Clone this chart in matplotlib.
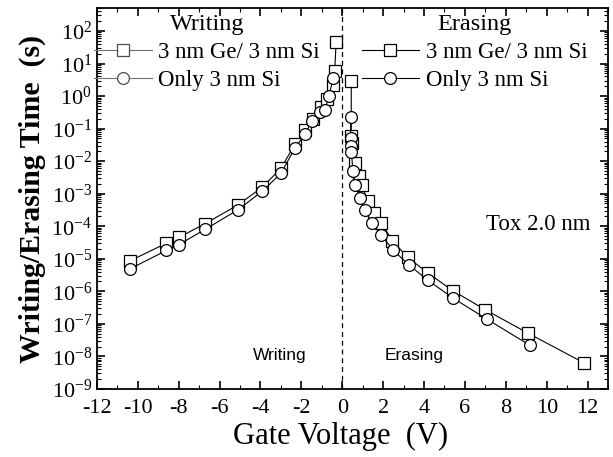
import matplotlib
matplotlib.use('Agg')
import matplotlib.pyplot as plt
from matplotlib.ticker import MultipleLocator, LogLocator, LogFormatterMathtext, NullFormatter

plt.rcParams['font.family'] = ['Liberation Serif', 'DejaVu Serif']
plt.rcParams['axes.unicode_minus'] = False
plt.rcParams['mathtext.fontset'] = 'custom'
plt.rcParams['mathtext.rm'] = 'Liberation Serif'

# Writing (negative gate voltage)
w_ge_v = [-10.4, -8.6, -8.0, -6.7, -5.1, -3.9, -3.0, -2.3, -1.8, -1.45, -1.05, -0.75, -0.45, -0.37, -0.3]
w_ge_t = [8.5e-6, 3.0e-5, 4.5e-5, 1.2e-4, 4.5e-4, 1.6e-3, 6.0e-3, 0.034, 0.09, 0.2, 0.45, 0.8, 2.2, 5.8, 45]
w_si_v = [-10.4, -8.6, -8.0, -6.7, -5.1, -3.9, -3.0, -2.3, -1.8, -1.5, -1.07, -0.85, -0.65, -0.45]
w_si_t = [4.8e-6, 1.8e-5, 2.7e-5, 8.0e-5, 3.2e-4, 1.2e-3, 4.2e-3, 0.026, 0.07, 0.17, 0.32, 0.38, 1.0, 3.5]

# Erasing (positive gate voltage)
e_ge_v = [0.44, 0.44, 0.47, 0.63, 0.8, 0.96, 1.25, 1.55, 1.9, 2.45, 3.2, 4.2, 5.4, 7.0, 9.1, 11.8]
e_ge_t = [2.8, 0.058, 0.035, 8.7e-3, 3.5e-3, 1.9e-3, 5.8e-4, 2.5e-4, 1.3e-4, 3.6e-5, 1.1e-5, 3.6e-6, 1.05e-6, 2.7e-7, 5.1e-8, 6.4e-9]
e_si_v = [0.41, 0.41, 0.44, 0.45, 0.52, 0.63, 0.88, 1.09, 1.45, 1.9, 2.47, 3.24, 4.18, 5.43, 7.07, 9.17]
e_si_t = [0.23, 0.05, 0.03, 0.019, 4.9e-3, 1.9e-3, 7.4e-4, 3.2e-4, 1.3e-4, 5.5e-5, 1.9e-5, 6.6e-6, 2.2e-6, 6.1e-7, 1.4e-7, 2.2e-8]

fig = plt.figure(figsize=(6.13, 4.57), dpi=100)
ax = fig.add_axes([0.158, 0.149, 0.834, 0.833])

mk = dict(color='black', lw=0.8, mfc='white', mec='black', mew=0.9, ms=8.5)
l1, = ax.plot(w_ge_v, w_ge_t, marker='s', **mk)
l2, = ax.plot(w_si_v, w_si_t, marker='o', **mk)
l3, = ax.plot(e_ge_v, e_ge_t, marker='s', **mk)
l4, = ax.plot(e_si_v, e_si_t, marker='o', **mk)

ax.axvline(0, color='black', ls=(0, (4, 3)), lw=0.9)

ax.set_yscale('log')
ax.set_xlim(-12, 13)
ax.set_ylim(1e-9, 500)

ax.xaxis.set_major_locator(MultipleLocator(2))
ax.xaxis.set_minor_locator(MultipleLocator(1))
ax.yaxis.set_major_locator(LogLocator(base=10, numticks=20))
ax.yaxis.set_minor_locator(LogLocator(base=10, subs=range(2, 10), numticks=20))
ax.yaxis.set_major_formatter(LogFormatterMathtext())
ax.yaxis.set_minor_formatter(NullFormatter())
ax.tick_params(which='both', direction='in', top=True, right=True, labelsize=16)
ax.tick_params(axis='x', pad=7)
ax.tick_params(which='major', length=6, width=1.2)
ax.tick_params(which='minor', length=3, width=0.8)
for s in ax.spines.values():
    s.set_linewidth(1.3)

ax.set_xlabel('Gate Voltage  (V)', fontsize=22)
ax.xaxis.set_label_coords(0.477, -0.088)
ax.set_ylabel('Writing/Erasing Time  (s)', fontsize=21.5, fontweight='bold', labelpad=4)

leg_kw = dict(frameon=False, fontsize=16.5, title_fontsize=17.5, handlelength=2.5,
              handletextpad=0.3, borderaxespad=0.0, borderpad=0.0, labelspacing=0.3,
              loc='upper left')
leg1 = ax.legend([l1, l2], ['3 nm Ge/ 3 nm Si', 'Only 3 nm Si'], title='Writing',
                 bbox_to_anchor=(-0.005, 0.985), **leg_kw)
for h in leg1.legend_handles:
    h.set_color('0.45')
    h.set_markeredgecolor('0.3')
ax.add_artist(leg1)
ax.legend([l3, l4], ['3 nm Ge/ 3 nm Si', 'Only 3 nm Si'], title='Erasing',
          bbox_to_anchor=(0.518, 0.985), **leg_kw)

ax.text(12.15, 1.1e-4, 'Tox 2.0 nm', ha='right', va='center', fontsize=16.5)
ax.text(-3.07, 1.1e-8, 'Writing', ha='center', va='center', fontsize=12.5, family='Liberation Sans')
ax.text(3.5, 1.1e-8, 'Erasing', ha='center', va='center', fontsize=12.5, family='Liberation Sans')

fig.savefig('out.png', dpi=100)
